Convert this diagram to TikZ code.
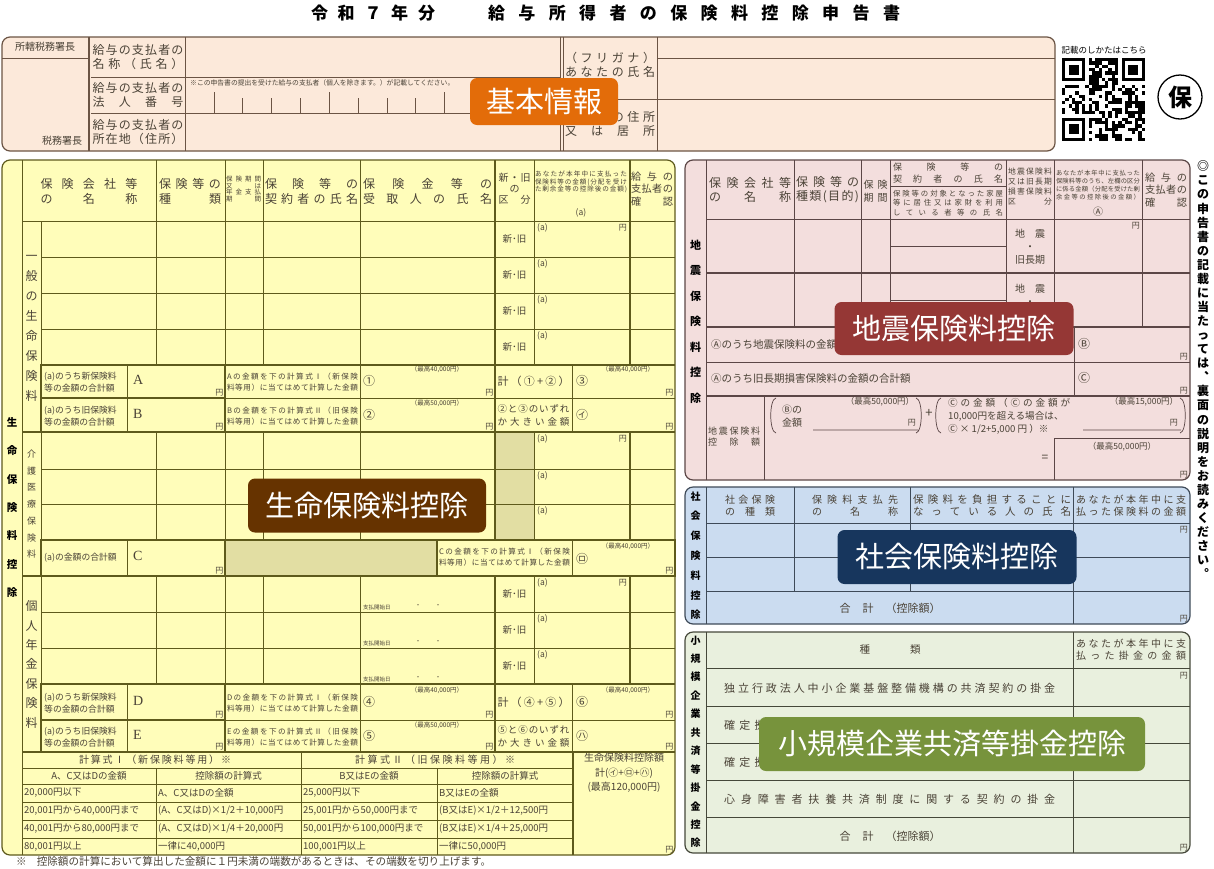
\documentclass[tikz,border=0pt]{standalone}
\usepackage{fontspec}
\setmainfont{Noto Sans CJK JP}
\newfontfamily\latinserif{Liberation Serif}

\definecolor{peach}{HTML}{FCE9DA}
\definecolor{peachline}{HTML}{6B5444}
\definecolor{lifefill}{HTML}{FFFDBA}
\definecolor{lifeline}{HTML}{5E5A1C}
\definecolor{lifeshade}{HTML}{E2DEA3}
\definecolor{quakefill}{HTML}{F3DEDD}
\definecolor{quakeline}{HTML}{5B4646}
\definecolor{socfill}{HTML}{CBDCF0}
\definecolor{socline}{HTML}{3E4A58}
\definecolor{smefill}{HTML}{E9F0DE}
\definecolor{smeline}{HTML}{45483A}
\definecolor{inktext}{HTML}{4A4236}
\definecolor{tagbasic}{HTML}{E36C09}
\definecolor{taglife}{HTML}{663300}
\definecolor{tagquake}{HTML}{953735}
\definecolor{tagsoc}{HTML}{17365D}
\definecolor{tagsme}{HTML}{77933C}

% spread characters over a fixed width
\def\spreadfirst#1{\ifx#1\relax\else#1\expandafter\spreadrest\fi}
\def\spreadrest#1{\ifx#1\relax\else\hfill#1\expandafter\spreadrest\fi}
\newcommand\jsp[2]{\makebox[#1]{\spreadfirst#2\relax}}

% stack characters vertically
\newlength\vstep
\newcommand\vcell[1]{\hbox to 1.2em{\hss\vrule width 0pt height \dimexpr0.5\vstep+0.38em\relax depth \dimexpr0.5\vstep-0.38em\relax #1\hss}}
\def\vfirst#1{\ifx#1\relax\else\vcell{#1}\expandafter\vfirst\fi}
\newcommand\vstack[2]{\setlength\vstep{#1}\vbox{\offinterlineskip\vfirst#2\relax}}

\tikzset{
  fs/.style={text=inktext, inner sep=0pt, font=\fontsize{#1}{#1}\selectfont},
  fsl/.style 2 args={text=inktext, inner sep=0pt, font=\fontsize{#1}{#2}\selectfont},
  fsb/.style={text=black, inner sep=0pt, font=\fontsize{#1}{#1}\selectfont\bfseries},
  cell/.style={line width=0.7pt},
  heavy/.style={line width=1.5pt},
  panel/.style={line width=1.2pt, rounded corners=8pt},
  tag/.style={rounded corners=7pt, text=white, inner sep=0pt, font=\fontsize{29}{29}\selectfont},
}

\begin{document}
\begin{tikzpicture}[x=1pt,y=-1pt]
\useasboundingbox (0,0) rectangle (1214,868);

% title
\node[fsb=17] (title1) at (373,13) {\jsp{124pt}{令和７年分}};
\node[fsb=17] (title2) at (694,13) {\jsp{412pt}{給与所得者の保険料控除申告書}};

% basic information
\draw[panel, draw=peachline, fill=peach] (2,37) rectangle (1055,151);
\draw[draw=peachline, line width=2.6pt] (89,37) -- (89,151);
\draw[cell, draw=peachline] (2,58) -- (88,58)
  (185,37) -- (185,151) (91,77) -- (560,77) (91,113) -- (560,113)
  (560,37) -- (560,151) (563,37) -- (563,151)
  (657,37) -- (657,151) (657,58) -- (1055,58) (563,99) -- (1055,99);
\draw[cell, draw=peachline] (213.9,92) -- (213.9,113) (242.7,98) -- (242.7,113)
  (271.6,98) -- (271.6,113) (300.4,98) -- (300.4,113) (329.3,92) -- (329.3,113)
  (358.1,98) -- (358.1,113) (387.0,98) -- (387.0,113) (415.8,98) -- (415.8,113)
  (444.7,92) -- (444.7,113) (473.5,98) -- (473.5,113) (502.4,98) -- (502.4,113)
  (531.2,98) -- (531.2,113);
\node[fs=10] at (45,47) {所轄税務署長};
\node[fs=10] at (62,141) {税務署長};
\node[fsl={12}{14.5}, align=left] at (138,57) {\jsp{91pt}{給与の支払者の}\\\jsp{91pt}{名称（氏名）}};
\node[fsl={12}{14.5}, align=left] at (138,95) {\jsp{91pt}{給与の支払者の}\\\jsp{91pt}{法人番号}};
\node[fsl={12}{14.5}, align=left] at (138,132) {\jsp{91pt}{給与の支払者の}\\\jsp{91pt}{所在地（住所）}};
\node[fs=6.8, anchor=west] at (190,83) {※この申告書の提出を受けた給与の支払者（個人を除きます。）が記載してください。};
\node[fsl={12}{14}, align=left] at (610,65) {\jsp{90pt}{（フリガナ）}\\\jsp{90pt}{あなたの氏名}};
\node[fsl={12}{14.5}, align=left] at (610,124) {\jsp{90pt}{あなたの住所}\\\jsp{90pt}{又は居所}};

% code and stamp
\node[fs=8.5, text=black] (qrnote) at (1104,50) {記載のしかたはこちら};
\pgfmathsetseed{11}
\foreach \i in {0,...,24} {
  \foreach \j in {0,...,24} {
    \pgfmathtruncatemacro\qrbit{((\i<8 && \j<8) || (\i>16 && \j<8) || (\i<8 && \j>16)) ? 0 : (rnd>0.45 ? 1 : 0)}
    \ifnum\qrbit=1 \fill (1062+\i*3.32,58+\j*3.32) rectangle +(3.32,3.32); \fi
  }
}
\fill (1062,58) rectangle +(23.24,23.24);
\fill[white] (1065.32,61.32) rectangle +(16.6,16.6);
\fill (1068.64,64.64) rectangle +(9.96,9.96);
\fill (1121.76,58) rectangle +(23.24,23.24);
\fill[white] (1125.08,61.32) rectangle +(16.6,16.6);
\fill (1128.4,64.64) rectangle +(9.96,9.96);
\fill (1062,117.76) rectangle +(23.24,23.24);
\fill[white] (1065.32,121.08) rectangle +(16.6,16.6);
\fill (1068.64,124.4) rectangle +(9.96,9.96);
\draw[line width=1.3pt] (1180,97) circle (22);
\node[fsb=24] (hoken) at (1180,97) {保};

% life insurance
\draw[panel, draw=lifeline, fill=lifefill] (2,160) rectangle (675,855);
\fill[lifeshade] (495,432) rectangle (534,540);
\fill[lifeshade] (225,540) rectangle (437,576);
\draw[cell, draw=lifeline]
  (22,160) -- (22,855) (41,221) -- (41,752) (22,221) -- (675,221)
  (156,160) -- (156,365) (225,160) -- (225,365) (263,160) -- (263,365)
  (534,160) -- (534,365) (360,160) -- (360,432) (572,365) -- (572,432)
  (41,257) -- (675,257) (41,293) -- (675,293) (41,329) -- (675,329)
  (225,398) -- (675,398) (127,365) -- (127,432)
  (156,432) -- (156,540) (225,432) -- (225,540) (263,432) -- (263,540)
  (360,432) -- (360,540) (534,432) -- (534,540)
  (41,469) -- (675,469) (41,504) -- (675,504)
  (127,540) -- (127,576) (572,540) -- (572,576)
  (156,576) -- (156,684) (225,576) -- (225,684) (263,576) -- (263,684)
  (360,576) -- (360,752) (534,576) -- (534,684) (572,684) -- (572,752)
  (41,612) -- (675,612) (41,648) -- (675,648)
  (225,720) -- (675,720) (127,684) -- (127,752)
  (301,752) -- (301,855) (156,768) -- (156,855) (437,768) -- (437,855)
  (22,768) -- (573,768) (22,784) -- (573,784) (22,802) -- (573,802)
  (22,820) -- (573,820) (22,838) -- (573,838);
\draw[heavy, draw=lifeline]
  (495,160) -- (495,432) (630,160) -- (630,365)
  (41,365) -- (675,365) (22,432) -- (675,432)
  (41,365) rectangle (225,432) (41,398) -- (225,398)
  (495,432) -- (495,540) (630,432) -- (630,540)
  (41,540) -- (675,540) (41,540) rectangle (225,576) (437,540) rectangle (675,576)
  (22,576) -- (675,576)
  (495,576) -- (495,752) (630,576) -- (630,684)
  (41,684) -- (675,684) (41,684) rectangle (225,752) (41,720) -- (225,720)
  (22,752) -- (675,752) (573,752) -- (573,855);

\node[fsl={12}{15}, align=left] at (89,191) {\jsp{97pt}{保険会社等}\\\jsp{97pt}{の名称}};
\node[fsl={12}{15}, align=left] at (190,191) {\jsp{62pt}{保険等の}\\\jsp{62pt}{種類}};
\node[fsl={6.5}{6.8}, align=left] at (243.5,189) {\jsp{35pt}{保険期間}\\\jsp{35pt}{又は}\\\jsp{35pt}{年金支払}\\\jsp{35pt}{期間}};
\node[fsl={12}{15}, align=left] at (311.5,191) {\jsp{93pt}{保険等の}\\\jsp{93pt}{契約者の氏名}};
\node[fsl={12}{15}, align=left] at (427.5,191) {\jsp{129pt}{保険金等の}\\\jsp{129pt}{受取人の氏名}};
\node[fsl={10}{11}, align=center] at (514.5,189) {\jsp{32pt}{新・旧}\\の\\\jsp{32pt}{区分}};
\node[fsl={6.6}{7.3}, align=left] at (581,182) {\jsp{92pt}{あなたが本年中に支払った}\\\jsp{92pt}{保険料等の金額(分配を受け}\\\jsp{92pt}{た剰余金等の控除後の金額)}};
\node[fs=8.5] at (581,213) {(a)};
\node[fsl={10.2}{12.5}, align=left] at (652,189) {\jsp{42pt}{給与の}\\\jsp{42pt}{支払者の}\\\jsp{42pt}{確認}};

\node[fsb=10.5, anchor=north] (lifetitle) at (12,407.8) {\vstack{28.4pt}{生命保険料控除}};
\node[fs=12, anchor=north] (general) at (31.5,246) {\vstack{20pt}{一般の生命保険料}};
\node[fs=9, anchor=north] (care) at (31.5,445.6) {\vstack{16.7pt}{介護医療保険料}};
\node[fs=12, anchor=north] (pension) at (31.5,596.3) {\vstack{19.4pt}{個人年金保険料}};

% rows with the new / old split
\node[fs=9.5] at (514.5,239) {新･旧};
\node[fs=9.5] at (514.5,275) {新･旧};
\node[fs=9.5] at (514.5,311) {新･旧};
\node[fs=9.5] at (514.5,347) {新･旧};
\node[fs=9.5] at (514.5,594) {新･旧};
\node[fs=9.5] at (514.5,630) {新･旧};
\node[fs=9.5] at (514.5,666) {新･旧};
\node[fs=8.5, anchor=north west] at (537,223) {(a)};
\node[fs=8.5, anchor=north west] at (537,259) {(a)};
\node[fs=8.5, anchor=north west] at (537,295) {(a)};
\node[fs=8.5, anchor=north west] at (537,331) {(a)};
\node[fs=8.5, anchor=north west] at (537,434) {(a)};
\node[fs=8.5, anchor=north west] at (537,471) {(a)};
\node[fs=8.5, anchor=north west] at (537,506) {(a)};
\node[fs=8.5, anchor=north west] at (537,578) {(a)};
\node[fs=8.5, anchor=north west] at (537,614) {(a)};
\node[fs=8.5, anchor=north west] at (537,650) {(a)};
\node[fs=8, anchor=north east] at (627,224) {円};
\node[fs=8, anchor=north east] at (627,435) {円};
\node[fs=8, anchor=north east] at (627,579) {円};
\node[fs=5.5, anchor=west] at (363,607) {支払開始日};
\node[fs=6] at (418,606) {・};
\node[fs=6] at (438,606) {・};
\node[fs=5.5, anchor=west] at (363,643) {支払開始日};
\node[fs=6] at (418,642) {・};
\node[fs=6] at (438,642) {・};
\node[fs=5.5, anchor=west] at (363,679) {支払開始日};
\node[fs=6] at (418,678) {・};
\node[fs=6] at (438,678) {・};

% A and B
\node[fsl={8.8}{12.5}, align=left, anchor=west] at (44,382) {(a)のうち新保険料\\等の金額の合計額};
\node[fs=14, anchor=west] at (133,380) {\latinserif A};
\node[fs=8, anchor=south east] at (223.5,396.5) {円};
\node[fsl={7.6}{11.5}, align=left] at (292.5,382) {\jsp{131pt}{Aの金額を下の計算式Ⅰ（新保険}\\\jsp{131pt}{料等用）に当てはめて計算した金額}};
\node[fs=12, anchor=west] at (363,381) {①};
\node[fs=6.5] at (437,369.5) {（最高40,000円）};
\node[fs=8, anchor=south east] at (493.5,396.5) {円};
\node[fs=11] at (533.5,381) {\jsp{72pt}{計（①+②）}};
\node[fs=12, anchor=west] at (576,381) {③};
\node[fs=6.5] at (628,369.5) {（最高40,000円）};
\node[fs=8, anchor=south east] at (673.5,396.5) {円};
\node[fsl={8.8}{12.5}, align=left, anchor=west] at (44,416) {(a)のうち旧保険料\\等の金額の合計額};
\node[fs=14, anchor=west] at (133,414) {\latinserif B};
\node[fs=8, anchor=south east] at (223.5,430.5) {円};
\node[fsl={7.6}{11.5}, align=left] at (292.5,416) {\jsp{131pt}{Bの金額を下の計算式Ⅱ（旧保険}\\\jsp{131pt}{料等用）に当てはめて計算した金額}};
\node[fs=12, anchor=west] at (363,415) {②};
\node[fs=6.5] at (437,403.5) {（最高50,000円）};
\node[fs=8, anchor=south east] at (493.5,430.5) {円};
\node[fsl={9.5}{13}, align=left] at (533.5,415) {\jsp{72pt}{②と③のいずれ}\\\jsp{72pt}{か大きい金額}};
\node[fs=12, anchor=west] at (576,415) {㋑};
\node[fs=8, anchor=south east] at (673.5,430.5) {円};

% C
\node[fs=8.8, anchor=west] at (44,558) {(a)の金額の合計額};
\node[fs=14, anchor=west] at (133,556) {\latinserif C};
\node[fs=8, anchor=south east] at (223.5,574.5) {円};
\node[fsl={7.6}{11.5}, align=left] at (504.5,557) {\jsp{131pt}{Cの金額を下の計算式Ⅰ（新保険}\\\jsp{131pt}{料等用）に当てはめて計算した金額}};
\node[fs=12, anchor=west] at (576,559) {㋺};
\node[fs=6.5] at (628,546.5) {（最高40,000円）};
\node[fs=8, anchor=south east] at (673.5,574.5) {円};

% D and E
\node[fsl={8.8}{12.5}, align=left, anchor=west] at (44,703) {(a)のうち新保険料\\等の金額の合計額};
\node[fs=14, anchor=west] at (133,701) {\latinserif D};
\node[fs=8, anchor=south east] at (223.5,718.5) {円};
\node[fsl={7.6}{11.5}, align=left] at (292.5,703) {\jsp{131pt}{Dの金額を下の計算式Ⅰ（新保険}\\\jsp{131pt}{料等用）に当てはめて計算した金額}};
\node[fs=12, anchor=west] at (363,702) {④};
\node[fs=6.5] at (437,690.5) {（最高40,000円）};
\node[fs=8, anchor=south east] at (493.5,718.5) {円};
\node[fs=11] at (533.5,702) {\jsp{72pt}{計（④+⑤）}};
\node[fs=12, anchor=west] at (576,702) {⑥};
\node[fs=6.5] at (628,690.5) {（最高40,000円）};
\node[fs=8, anchor=south east] at (673.5,718.5) {円};
\node[fsl={8.8}{12.5}, align=left, anchor=west] at (44,737) {(a)のうち旧保険料\\等の金額の合計額};
\node[fs=14, anchor=west] at (133,735) {\latinserif E};
\node[fs=8, anchor=south east] at (223.5,750.5) {円};
\node[fsl={7.6}{11.5}, align=left] at (292.5,737) {\jsp{131pt}{Eの金額を下の計算式Ⅱ（旧保険}\\\jsp{131pt}{料等用）に当てはめて計算した金額}};
\node[fs=12, anchor=west] at (363,736) {⑤};
\node[fs=6.5] at (437,725) {（最高50,000円）};
\node[fs=8, anchor=south east] at (493.5,750.5) {円};
\node[fsl={9.5}{13}, align=left] at (533.5,736) {\jsp{72pt}{⑤と⑥のいずれ}\\\jsp{72pt}{か大きい金額}};
\node[fs=12, anchor=west] at (576,736) {㋩};
\node[fs=8, anchor=south east] at (673.5,750.5) {円};

% formula table
\node[fs=10] at (155,760) {\jsp{152pt}{計算式Ⅰ（新保険料等用）※}};
\node[fs=10] at (435,760) {\jsp{160pt}{計算式Ⅱ（旧保険料等用）※}};
\node[fs=9.5] at (89,776) {A、C又はDの金額};
\node[fs=9.5] at (228.5,776) {控除額の計算式};
\node[fs=9.5] at (369,776) {B又はEの金額};
\node[fs=9.5] at (505,776) {控除額の計算式};
\node[fs=9.5, anchor=west] at (24,793) {20,000円以下};
\node[fs=9.5, anchor=west] at (158,793) {A、C又はDの全額};
\node[fs=9.5, anchor=west] at (303,793) {25,000円以下};
\node[fs=9.5, anchor=west] at (439,793) {B又はEの全額};
\node[fs=9.5, anchor=west] at (24,811) {20,001円から40,000円まで};
\node[fs=9.5, anchor=west] at (158,811) {(A、C又はD)×1/2＋10,000円};
\node[fs=9.5, anchor=west] at (303,811) {25,001円から50,000円まで};
\node[fs=9.5, anchor=west] at (439,811) {(B又はE)×1/2＋12,500円};
\node[fs=9.5, anchor=west] at (24,829) {40,001円から80,000円まで};
\node[fs=9.5, anchor=west] at (158,829) {(A、C又はD)×1/4＋20,000円};
\node[fs=9.5, anchor=west] at (303,829) {50,001円から100,000円まで};
\node[fs=9.5, anchor=west] at (439,829) {(B又はE)×1/4＋25,000円};
\node[fs=9.5, anchor=west] at (24,846.5) {80,001円以上};
\node[fs=9.5, anchor=west] at (158,846.5) {一律に40,000円};
\node[fs=9.5, anchor=west] at (303,846.5) {100,001円以上};
\node[fs=9.5, anchor=west] at (439,846.5) {一律に50,000円};
\node[fsl={10}{14.5}, align=center] (lifetotal) at (624,773) {生命保険料控除額\\計(㋑+㋺+㋩)\\(最高120,000円)};
\node[fs=8, anchor=south east] at (673.5,853) {円};
\node[fs=10.6, anchor=west] (footnote) at (16,861.5) {※\hspace{10pt}控除額の計算において算出した金額に１円未満の端数があるときは、その端数を切り上げます。};

% earthquake insurance
\draw[panel, draw=quakeline, fill=quakefill] (685,160) rectangle (1190,480);
\draw[cell, draw=quakeline]
  (706,160) -- (706,480) (706,219) -- (1190,219)
  (794,160) -- (794,327) (861,160) -- (861,327) (890,160) -- (890,327)
  (1006,160) -- (1006,327) (1054,160) -- (1054,327) (1142,160) -- (1142,327)
  (890,186) -- (1006,186) (890,246) -- (1006,246) (890,300) -- (1006,300)
  (1074,327) -- (1074,396) (706,362) -- (1190,362)
  (764,396) -- (764,480) (1054,438) -- (1054,480) (1054,438) -- (1190,438);
\draw[line width=1.1pt, draw=quakeline] (706,273) -- (1190,273) (706,327) -- (1190,327) (706,396) -- (1190,396);
\draw[cell, draw=quakeline] (776,398) .. controls (769,399) and (769,432) .. (776,433)
  (916,398) .. controls (923,399) and (923,432) .. (916,433)
  (813,430) -- (918,430)
  (941,398) .. controls (934,399) and (934,432) .. (941,433)
  (1180,398) .. controls (1187,399) and (1187,432) .. (1180,433)
  (1083,430) -- (1181,430);
\node[fsl={12}{14}, align=left] at (750,190) {\jsp{82pt}{保険会社等}\\\jsp{82pt}{の名称}};
\node[fsl={12}{14}, align=left] at (827.5,190) {\jsp{63pt}{保険等の}\\\jsp{63pt}{種類(目的)}};
\node[fsl={10}{13}, align=left] at (875.5,191) {\jsp{24pt}{保険}\\\jsp{24pt}{期間}};
\node[fsl={9}{11.5}, align=left] at (948,173) {\jsp{110pt}{保険等の}\\\jsp{110pt}{契約者の氏名}};
\node[fsl={7.4}{9.5}, align=left] at (948,203) {\jsp{110pt}{保険等の対象となった家屋}\\\jsp{110pt}{等に居住又は家財を利用}\\\jsp{110pt}{している者等の氏名}};
\node[fsl={7.8}{10}, align=left] at (1030,187) {\jsp{44pt}{地震保険料}\\\jsp{44pt}{又は旧長期}\\\jsp{44pt}{損害保険料}\\\jsp{44pt}{区分}};
\node[fsl={6.3}{7.8}, align=left] at (1098,185) {\jsp{84pt}{あなたが本年中に支払った}\\\jsp{84pt}{保険料等のうち、左欄の区分}\\\jsp{84pt}{に係る金額（分配を受けた剰}\\\jsp{84pt}{余金等の控除後の金額）}};
\node[fs=10] at (1098,212) {Ⓐ};
\node[fsl={10.2}{12.5}, align=left] at (1166,190) {\jsp{42pt}{給与の}\\\jsp{42pt}{支払者の}\\\jsp{42pt}{確認}};
\node[fsb=11, anchor=north] (quaketitle) at (695.5,232.25) {\vstack{25.5pt}{地震保険料控除}};
\node[fsl={10}{13}, align=center] at (1030,247) {\jsp{30pt}{地震}\\・\\旧長期};
\node[fsl={10}{13}, align=center] at (1030,302) {\jsp{30pt}{地震}\\・\\旧長期};
\node[fs=8, anchor=north east] at (1140,222) {円};
\node[fs=10.5, anchor=west] at (711,345) {Ⓐのうち地震保険料の金額の合計額};
\node[fs=12, anchor=west] at (1078,344) {Ⓑ};
\node[fs=8, anchor=south east] at (1188,360.5) {円};
\node[fs=10.5, anchor=west] at (711,379) {Ⓐのうち旧長期損害保険料の金額の合計額};
\node[fs=12, anchor=west] at (1078,378) {Ⓒ};
\node[fs=8, anchor=south east] at (1188,394.5) {円};
\node[fsl={9}{11}, align=left] at (734,437) {\jsp{52pt}{地震保険料}\\\jsp{52pt}{控除額}};
\node[fsl={10}{13}, align=left, anchor=west] at (782,416.5) {Ⓑの\\金額};
\node[fs=8.5] at (880,402) {（最高50,000円）};
\node[fs=8, anchor=east] at (916,423) {円};
\node[fs=13] at (929,413) {+};
\node[fsl={9.6}{13}, align=left, anchor=west] at (948,416) {\jsp{122pt}{Ⓒの金額（Ⓒの金額が}\\10,000円を超える場合は、\\Ⓒ × 1/2+5,000 円 ）※};
\node[fs=8.5] at (1144,402) {（最高15,000円）};
\node[fs=8, anchor=east] at (1178,423) {円};
\node[fs=12] at (1045,458) {=};
\node[fs=8.5] at (1122,447) {（最高50,000円）};
\node[fs=8, anchor=south east] at (1188,478) {円};

% social insurance
\draw[panel, draw=socline, fill=socfill] (685,487) rectangle (1190,624);
\draw[cell, draw=socline]
  (706,487) -- (706,624) (706,523) -- (1190,523) (706,557) -- (1190,557) (706,591) -- (1190,591)
  (794,487) -- (794,591) (910,487) -- (910,591) (1073,487) -- (1073,624);
\node[fsl={10}{12}, align=left] at (750,506) {\jsp{50pt}{社会保険}\\\jsp{50pt}{の種類}};
\node[fsl={10}{12}, align=left] at (855,506) {\jsp{86pt}{保険料支払先}\\\jsp{86pt}{の名称}};
\node[fsl={10.5}{12}, align=left] at (992,506) {\jsp{158pt}{保険料を負担することに}\\\jsp{158pt}{なっている人の氏名}};
\node[fsl={10}{12}, align=left] at (1131,506) {\jsp{110pt}{あなたが本年中に支}\\\jsp{110pt}{払った保険料の金額}};
\node[fs=8, anchor=north east] at (1188,526) {円};
\node[fs=11] at (890,608) {合\hspace{12pt}計\hspace{12pt}（控除額）};
\node[fs=8, anchor=south east] at (1188,622) {円};
\node[fsb=10, anchor=north] (soctitle) at (695.5,486.1) {\vstack{19.8pt}{社会保険料控除}};

% small business mutual aid
\draw[panel, draw=smeline, fill=smefill] (685,632) rectangle (1190,853);
\draw[cell, draw=smeline]
  (706,632) -- (706,853) (706,668) -- (1190,668) (706,706) -- (1190,706)
  (706,743) -- (1190,743) (706,780) -- (1190,780) (706,817) -- (1190,817)
  (1073,632) -- (1073,853);
\node[fs=10.5] at (890,650) {種\hspace{40pt}類};
\node[fsl={10}{12}, align=left] at (1131,650) {\jsp{110pt}{あなたが本年中に支}\\\jsp{110pt}{払った掛金の金額}};
\node[fs=8, anchor=north east] at (1188,672) {円};
\node[fs=11, anchor=west] at (724,688) {\jsp{331pt}{独立行政法人中小企業基盤整備機構の共済契約の掛金}};
\node[fs=11, anchor=west] at (724,725) {\jsp{331pt}{確定拠出年金法に規定する企業型年金加入者掛金}};
\node[fs=11, anchor=west] at (724,762) {\jsp{331pt}{確定拠出年金法に規定する個人型年金加入者掛金}};
\node[fs=11, anchor=west] at (724,799) {\jsp{331pt}{心身障害者扶養共済制度に関する契約の掛金}};
\node[fs=11] at (890,836) {合\hspace{12pt}計\hspace{12pt}（控除額）};
\node[fs=8, anchor=south east] at (1188,851) {円};
\node[fsb=10, anchor=north] (smetitle) at (695.5,630.8) {\vstack{18.45pt}{小規模企業共済等掛金控除}};

% side note
\node[fsb=12, anchor=north] (sidenote) at (1203,159) {\vstack{14.07pt}{◎この申告書の記載に当たっては︑裏面の説明をお読みください︒}};

% section tags
\node[tag, fill=tagbasic, minimum width=148pt, minimum height=47pt] (basic) at (544,101.5) {基本情報};
\node[tag, fill=taglife, minimum width=238pt, minimum height=54pt] (life) at (367,505.5) {生命保険料控除};
\node[tag, fill=tagquake, minimum width=239pt, minimum height=53pt] (quake) at (954,328.5) {地震保険料控除};
\node[tag, fill=tagsoc, minimum width=239pt, minimum height=54pt] (social) at (957,557) {社会保険料控除};
\node[tag, fill=tagsme, minimum width=386pt, minimum height=54pt] (smallbiz) at (952,744) {小規模企業共済等掛金控除};
\end{tikzpicture}
\end{document}
